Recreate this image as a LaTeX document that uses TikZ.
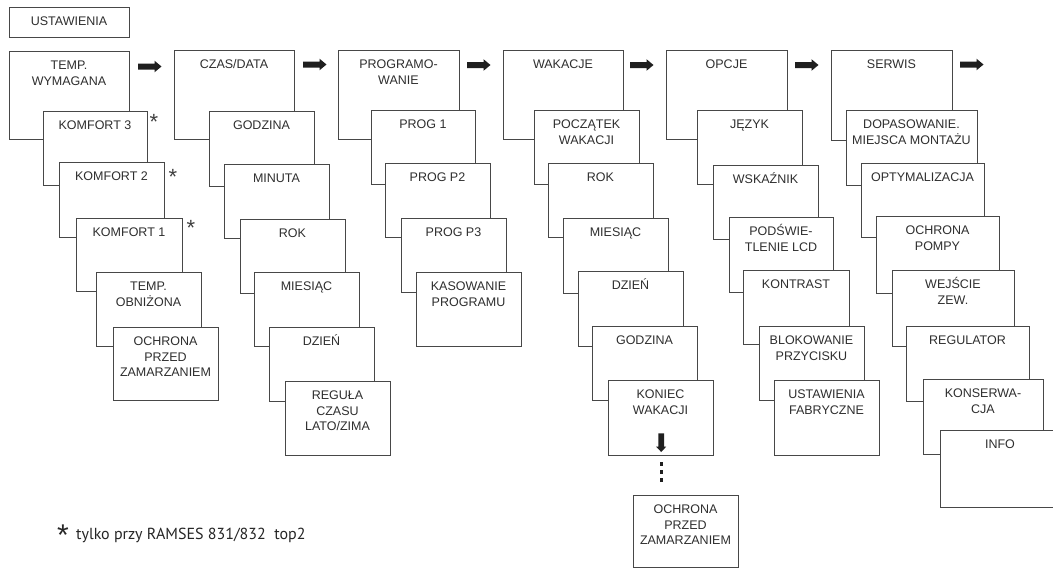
\documentclass[tikz,border=0pt]{standalone}
\usepackage{fontspec}
\setmainfont{Liberation Sans}
\newfontfamily\notefont{PT Sans}
\tikzset{
  bx/.style={draw=black!72, line width=0.85pt, fill=white, inner sep=0pt, outer sep=0pt, anchor=north west},
  tx/.style={anchor=north, inner sep=0pt, align=center, text=black!82, font=\fontsize{12.5}{15.5}\selectfont},
  arr/.style={fill=black!88},
  starmark/.style={anchor=base, inner sep=0pt, text=black!75, font=\fontsize{22}{22}\selectfont},
}
\newcommand{\mbx}[6]{%
  \node[bx, minimum width={#4-#2}, minimum height={#5-#3}] (#1) at (#2,#3) {};
  \node[tx] (#1t) at ([yshift=-5.3pt]#1.north) {\rule{0pt}{13pt}#6};
}
\newcommand{\rarr}[2]{%
  \fill[arr] (#1,#2+3) -- (#1+16.5,#2+3) -- (#1+16.5,#2+5.8) -- (#1+23.5,#2) -- (#1+16.5,#2-5.8) -- (#1+16.5,#2-3) -- (#1,#2-3) -- cycle;
}
\begin{document}
\begin{tikzpicture}[x=1pt,y=-1pt]
\useasboundingbox (0,0) rectangle (1053,568);
\clip (0,0) rectangle (1053,568);
\fill[white] (0,0) rectangle (1053,568);

\mbx{ust}{9}{7}{129}{37}{USTAWIENIA}

% column 1
\mbx{ca}{9}{51}{129}{139}{TEMP.\\WYMAGANA}
\mbx{caa}{43}{111}{147}{185}{KOMFORT 3}
\mbx{cab}{59}{162}{164}{237}{KOMFORT 2}
\mbx{cac}{76}{218}{182}{291}{KOMFORT 1}
\mbx{cad}{96}{272}{201}{346}{TEMP.\\OBNIŻONA}
\mbx{cae}{113}{327}{218}{400}{OCHRONA\\PRZED\\ZAMARZANIEM}

% column 2
\mbx{cb}{174}{50}{294}{139}{CZAS/DATA}
\mbx{cba}{209}{111}{314}{186}{GODZINA}
\mbx{cbb}{224}{164}{329}{238}{MINUTA}
\mbx{cbc}{240}{219}{345}{293}{ROK}
\mbx{cbd}{254}{272}{359}{346}{MIESIĄC}
\mbx{cbe}{269}{327}{374}{401}{DZIEŃ}
\mbx{cbf}{285}{381}{390}{455}{REGUŁA\\CZASU\\LATO/ZIMA}

% column 3
\mbx{cc}{338}{50}{459}{139}{PROGRAMO-\\WANIE}
\mbx{cca}{371}{110}{475}{184}{PROG 1}
\mbx{ccb}{385}{163}{490}{237}{PROG P2}
\mbx{ccc}{401}{218}{506}{292}{PROG P3}
\mbx{ccd}{416}{272}{521}{346}{KASOWANIE\\PROGRAMU}

% column 4
\mbx{cd}{503}{50}{623}{139}{WAKACJE}
\mbx{cda}{534}{110}{639}{184}{POCZĄTEK\\WAKACJI}
\mbx{cdb}{548}{163}{653}{237}{ROK}
\mbx{cdc}{563}{218}{668}{293}{MIESIĄC}
\mbx{cdd}{578}{271}{683}{346}{DZIEŃ}
\mbx{cde}{592}{326}{697}{400}{GODZINA}
\mbx{cdf}{608}{380}{713}{455}{KONIEC\\WAKACJI}
\mbx{cdg}{633}{495}{738}{567}{OCHRONA\\PRZED\\ZAMARZANIEM}

% column 5
\mbx{ce}{666}{50}{787}{139}{OPCJE}
\mbx{cea}{697}{110}{802}{184}{JĘZYK}
\mbx{ceb}{713}{165}{818}{239}{WSKAŹNIK}
\mbx{cec}{729}{217}{833}{292}{PODŚWIE-\\TLENIE LCD}
\mbx{ced}{743}{270}{849}{344}{KONTRAST}
\mbx{cee}{759}{326}{864}{400}{BLOKOWANIE\\PRZYCISKU}
\mbx{cef}{774}{380}{879}{455}{USTAWIENIA\\FABRYCZNE}

% column 6
\mbx{cf}{831}{50}{952}{140}{SERWIS}
\mbx{cfa}{846}{110}{977}{185}{DOPASOWANIE.\\MIEJSCA MONTAŻU}
\mbx{cfb}{861}{163}{984}{237}{OPTYMALIZACJA}
\mbx{cfc}{876}{216}{999}{293}{OCHRONA\\POMPY}
\mbx{cfd}{892}{270}{1014}{346}{WEJŚCIE\\ZEW.}
\mbx{cfe}{906}{326}{1029}{401}{REGULATOR}
\mbx{cff}{923}{379}{1043}{454}{KONSERWA-\\CJA}
\mbx{cfg}{940}{430}{1060}{507}{INFO}

% arrows between columns
\rarr{138}{66.5}
\rarr{303}{64.5}
\rarr{467}{65}
\rarr{630}{65}
\rarr{795}{65}
\rarr{960}{64.5}

% down arrow and dots
\fill[arr] (658.3,433.3) -- (664,433.3) -- (664,446.7) -- (666.2,446.7) -- (661.2,452) -- (656.2,446.7) -- (658.3,446.7) -- cycle;
\foreach \yy in {464,472,480} {\fill[arr] (659.5,\yy-1.6) rectangle (662.9,\yy+1.6);}

% asterisks
\node[starmark] (s1) at (154,129.5) {*};
\node[starmark] (s2) at (173,184.5) {*};
\node[starmark] (s3) at (191,235.5) {*};

% footnote
\node[anchor=base, inner sep=0pt, text=black!85, font=\fontsize{30}{30}\selectfont] (fs) at (63,545) {*};
\node[anchor=base west, inner sep=0pt, text=black!85, font=\notefont\fontsize{16}{19}\selectfont] (fn) at (76,539) {tylko przy RAMSES 831/832\ \ top2};
\end{tikzpicture}
\end{document}
